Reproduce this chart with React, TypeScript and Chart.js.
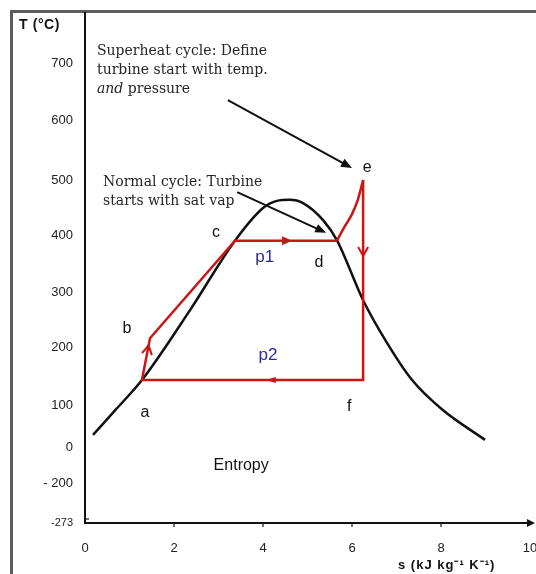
import React, { useEffect, useRef } from 'react';
import { Chart, registerables } from 'chart.js';

Chart.register(...registerables);

// ---- Axis definitions ----
const S_TICKS = [0, 2, 4, 6, 8, 10];
const T_TICKS = [-273, -200, 0, 100, 200, 300, 400, 500, 600, 700];
const T_TICK_LABELS = ['-273', '- 200', '0', '100', '200', '300', '400', '500', '600', '700'];
// non-linear temperature axis: scale knot for each temperature tick
const T_AXIS_KNOTS = [0, 40, 76, 118, 176, 231, 288, 343, 403, 460];
const T_AXIS_MAX = 511;

// ---- Saturation dome ----
const domeS = [0.18, 0.7, 1.28, 2.36, 3.37, 4.0, 4.31, 4.6, 4.9, 5.35, 5.66, 6.25, 6.79, 7.35, 8.04, 8.99];
const domeT = [29, 90, 143, 267, 390, 449, 462, 464, 458, 427, 391, 285, 207, 143, 88, 17];

// ---- Rankine cycle polygon: e, f, a, b, c, d ----
const cycleS = [6.25, 6.25, 1.28, 1.46, 3.37, 5.66];
const cycleT = [500, 143, 143, 216, 390, 390];

// ---- Superheating d -> e ----
const superS = [5.66, 5.84, 6.0, 6.13, 6.25];
const superT = [390, 416, 438, 464, 500];

// state point labels
const pointNames = ['a', 'b', 'c', 'd', 'e', 'f'];
const pointS = [1.28, 1.46, 3.37, 5.66, 6.25, 6.25];
const pointT = [143, 216, 390, 390, 500, 143];

// flow-direction arrows: segment index (from cycle point i to i+1) and fraction along it
const arrowSegment = [0, 1, 2, 4];
const arrowFraction = [0.38, 0.44, 0.83, 0.56];

// pressure labels
const pressureNames = ['p1', 'p2'];
const pressureS = [4.04, 4.11];
const pressureT = [360, 186];

function tPos(T: number): number {
  const n = T_TICKS.length;
  let i = 0;
  if (T >= T_TICKS[n - 1]) i = n - 2;
  else {
    while (i < n - 2 && T > T_TICKS[i + 1]) i++;
  }
  const t0 = T_TICKS[i], t1 = T_TICKS[i + 1];
  const p0 = T_AXIS_KNOTS[i], p1 = T_AXIS_KNOTS[i + 1];
  return p0 + ((T - t0) / (t1 - t0)) * (p1 - p0);
}

const SANS = '"Liberation Sans", Arial, sans-serif';
const SERIF = '"DejaVu Serif", "Liberation Serif", serif';
const RED = '#cc1515';

function arrowHead(ctx: CanvasRenderingContext2D, x: number, y: number, ang: number, len: number, half: number, filled: boolean) {
  const bx = x - Math.cos(ang) * len, by = y - Math.sin(ang) * len;
  const nx = -Math.sin(ang) * half, ny = Math.cos(ang) * half;
  ctx.beginPath();
  ctx.moveTo(bx + nx, by + ny);
  ctx.lineTo(x, y);
  ctx.lineTo(bx - nx, by - ny);
  if (filled) {
    ctx.closePath();
    ctx.fill();
  } else {
    ctx.stroke();
  }
}

const overlay = {
  id: 'overlay',
  afterDraw(chart: any) {
    const { ctx, scales } = chart;
    const xs = scales.x, ys = scales.y;
    const px = (s: number) => xs.getPixelForValue(s);
    const py = (T: number) => ys.getPixelForValue(tPos(T));
    ctx.save();

    // outer frame
    ctx.strokeStyle = '#5c5c5c';
    ctx.lineWidth = 3;
    ctx.beginPath();
    ctx.moveTo(11.5, 574);
    ctx.lineTo(11.5, 11.5);
    ctx.lineTo(536, 11.5);
    ctx.stroke();

    // axes
    const x0 = xs.left, yb = ys.bottom, yt = ys.top;
    ctx.strokeStyle = '#111';
    ctx.fillStyle = '#111';
    ctx.lineWidth = 2;
    ctx.beginPath();
    ctx.moveTo(x0, yt);
    ctx.lineTo(x0, yb + 1);
    ctx.stroke();
    ctx.beginPath();
    ctx.moveTo(x0 - 1, yb);
    ctx.lineTo(xs.right, yb);
    ctx.stroke();
    arrowHead(ctx, xs.right + 5, yb, 0, 8, 4, true);
    ctx.lineWidth = 1.2;
    for (const s of S_TICKS.slice(1, -1)) {
      ctx.beginPath();
      ctx.moveTo(px(s), yb);
      ctx.lineTo(px(s), yb + 4);
      ctx.stroke();
    }
    ctx.beginPath();
    ctx.moveTo(x0, yb - 4);
    ctx.lineTo(x0 + 4, yb - 4);
    ctx.stroke();

    // flow arrows on the cycle
    ctx.strokeStyle = RED;
    ctx.fillStyle = RED;
    ctx.lineWidth = 2;
    arrowSegment.forEach((seg, k) => {
      const xA = px(cycleS[seg]), yA = py(cycleT[seg]);
      const xB = px(cycleS[seg + 1]), yB = py(cycleT[seg + 1]);
      const f = arrowFraction[k];
      const x = xA + (xB - xA) * f, y = yA + (yB - yA) * f;
      const ang = Math.atan2(yB - yA, xB - xA);
      const horizontal = Math.abs(Math.cos(ang)) > 0.9;
      if (horizontal) arrowHead(ctx, x, y, ang, 10, seg === 1 ? 3 : 4.5, true);
      else arrowHead(ctx, x, y, ang, 9, 5, false);
    });

    // point labels
    ctx.fillStyle = '#111';
    ctx.font = `16px ${SANS}`;
    ctx.textAlign = 'center';
    ctx.textBaseline = 'middle';
    const offs: Record<string, [number, number]> = {
      a: [3, 33], b: [-23, -10], c: [-19, -8], d: [-18, 22], e: [4, -12], f: [-14, 27],
    };
    pointNames.forEach((n, i) => {
      const o = offs[n];
      ctx.fillText(n, px(pointS[i]) + o[0], py(pointT[i]) + o[1]);
    });

    // pressure labels
    ctx.fillStyle = '#2b2b9a';
    ctx.font = `17px ${SANS}`;
    pressureNames.forEach((n, i) => ctx.fillText(n, px(pressureS[i]), py(pressureT[i])));

    // Entropy
    ctx.fillStyle = '#111';
    ctx.font = `16px ${SANS}`;
    ctx.fillText('Entropy', px(3.51), py(-106));

    // axis titles
    ctx.textAlign = 'left';
    ctx.font = `bold 14px ${SANS}`;
    (ctx as any).letterSpacing = '0.6px';
    ctx.fillText('T (°C)', 19, 25);
    ctx.font = `bold 13px ${SANS}`;
    (ctx as any).letterSpacing = '1px';
    ctx.fillText('s (kJ kg⁻¹ K⁻¹)', 398, 565);
    (ctx as any).letterSpacing = '0px';

    // annotations
    ctx.fillStyle = '#262626';
    ctx.font = `14px ${SERIF}`;
    ctx.textAlign = 'left';
    ctx.fillText('Superheat cycle: Define', 97, 51);
    ctx.fillText('turbine start with temp.', 97, 70);
    ctx.font = `italic 14px ${SERIF}`;
    ctx.fillText('and', 97, 89);
    const w = ctx.measureText('and').width;
    ctx.font = `14px ${SERIF}`;
    ctx.fillText(' pressure', 97 + w, 89);
    ctx.fillText('Normal cycle: Turbine', 103, 182);
    ctx.fillText('starts with sat vap', 103, 201);

    // annotation arrows
    ctx.strokeStyle = '#111';
    ctx.fillStyle = '#111';
    ctx.lineWidth = 2;
    const arrows: [number, number, number, number][] = [
      [3.21, 635, 6.0, 520],
      [3.42, 478, 5.42, 404],
    ];
    arrows.forEach(([s1, T1, s2, T2]) => {
      const x1 = px(s1), y1 = py(T1), x2 = px(s2), y2 = py(T2);
      const ang = Math.atan2(y2 - y1, x2 - x1);
      ctx.beginPath();
      ctx.moveTo(x1, y1);
      ctx.lineTo(x2 - Math.cos(ang) * 6, y2 - Math.sin(ang) * 6);
      ctx.stroke();
      arrowHead(ctx, x2, y2, ang, 11, 4.5, true);
    });

    ctx.restore();
  },
};

export default function App() {
  const ref = useRef<HTMLCanvasElement | null>(null);
  useEffect(() => {
    document.body.style.margin = '0';
    const canvas = ref.current;
    if (!canvas) return;
    const chart = new Chart(canvas, {
      type: 'line',
      data: {
        datasets: [
          {
            label: 'cycle',
            data: cycleS.map((s, i) => ({ x: s, y: tPos(cycleT[i]) })),
            borderColor: RED,
            borderWidth: 2.5,
            pointRadius: 0,
            tension: 0,
            fill: false,
          },
          {
            label: 'superheat',
            data: superS.map((s, i) => ({ x: s, y: tPos(superT[i]) })),
            borderColor: RED,
            borderWidth: 2.5,
            pointRadius: 0,
            cubicInterpolationMode: 'monotone',
            fill: false,
          },
          {
            label: 'dome',
            data: domeS.map((s, i) => ({ x: s, y: tPos(domeT[i]) })),
            borderColor: '#111',
            borderWidth: 2.5,
            pointRadius: 0,
            cubicInterpolationMode: 'monotone',
            fill: false,
          },
        ],
      },
      options: {
        animation: false,
        responsive: false,
        layout: { padding: { top: 12, right: 6, left: 0, bottom: 0 } },
        plugins: { legend: { display: false }, tooltip: { enabled: false } },
        scales: {
          x: {
            type: 'linear',
            min: 0,
            max: 10,
            position: 'bottom',
            afterBuildTicks: (s: any) => {
              s.ticks = S_TICKS.map((v) => ({ value: v }));
            },
            afterFit: (s: any) => {
              s.height = 51;
              s.paddingLeft = 0;
              s.paddingRight = 0;
            },
            grid: { display: false, drawTicks: false },
            border: { display: false },
            ticks: {
              padding: 18,
              autoSkip: false,
              maxRotation: 0,
              color: '#222',
              font: { family: SANS, size: 13 },
              callback: (v: any) => String(v),
            },
          },
          y: {
            type: 'linear',
            min: 0,
            max: T_AXIS_MAX,
            afterBuildTicks: (s: any) => {
              s.ticks = T_AXIS_KNOTS.map((v) => ({ value: v }));
            },
            afterFit: (s: any) => {
              s.width = 85;
              s.paddingTop = 0;
              s.paddingBottom = 0;
            },
            grid: { display: false, drawTicks: false },
            border: { display: false },
            ticks: {
              padding: 12,
              autoSkip: false,
              color: '#222',
              font: (c: any) => ({ family: SANS, size: c.index === 0 ? 11 : 13 }),
              callback: (_v: any, i: number) => T_TICK_LABELS[i],
            },
          },
        },
      },
      plugins: [overlay],
    });
    return () => chart.destroy();
  }, []);
  return (
    <div style={{ width: 536, height: 574, position: 'relative', background: '#fff' }}>
      <canvas ref={ref} width={536} height={574} style={{ display: 'block' }} />
    </div>
  );
}
